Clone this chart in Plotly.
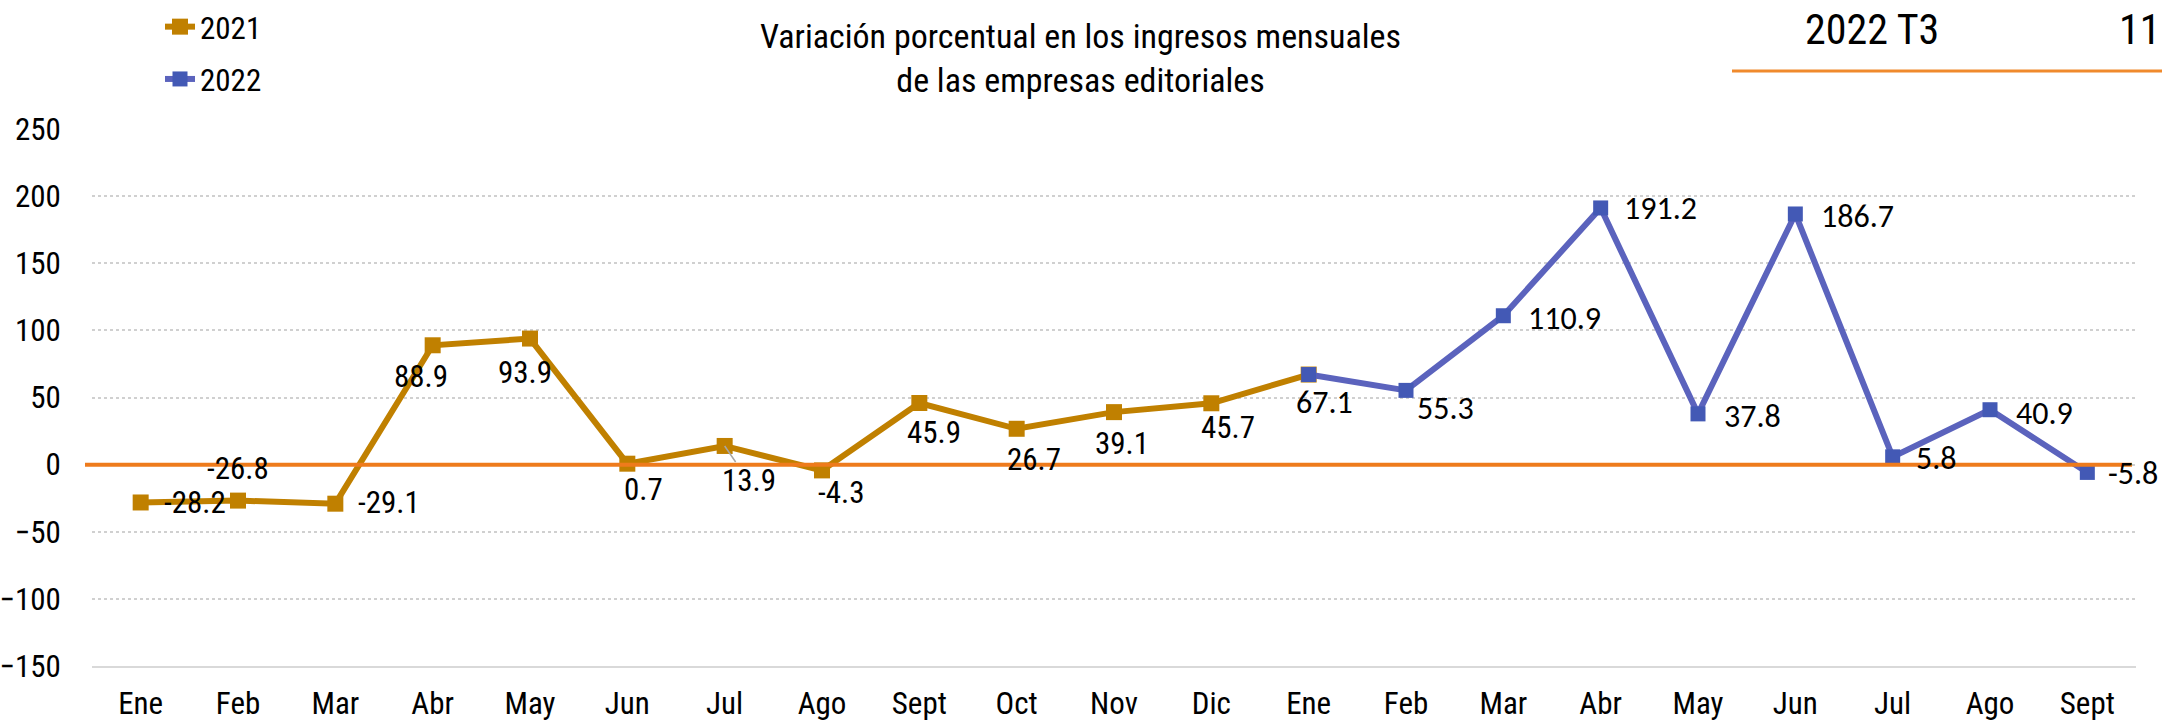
import plotly.graph_objects as go

# ---------------- data ----------------
months_2021 = ["Ene", "Feb", "Mar", "Abr", "May", "Jun", "Jul", "Ago", "Sept", "Oct", "Nov", "Dic"]
months_2022 = ["Ene", "Feb", "Mar", "Abr", "May", "Jun", "Jul", "Ago", "Sept"]
values_2021 = [-28.2, -26.8, -29.1, 88.9, 93.9, 0.7, 13.9, -4.3, 45.9, 26.7, 39.1, 45.7]
values_2022 = [67.1, 55.3, 110.9, 191.2, 37.8, 186.7, 5.8, 40.9, -5.8]
y_ticks = [-150, -100, -50, 0, 50, 100, 150, 200, 250]

series_names = ["2021", "2022"]
title_lines = ["Variación porcentual en los ingresos mensuales", "de las empresas editoriales"]
period_label = "2022 T3"
page_number = "11"

# ---------------- label placement (style, not data) ----------------
# (anchor, dx px, dy px; dy positive = downward)
label_pos_2021 = [("r", 22, 0), ("c", 0, -32), ("r", 22, -1), ("c", -12, 31), ("c", -5, 34),
                  ("c", 16, 26), ("c", 24, 35), ("c", 19, 22), ("c", 15, 29), ("c", 17, 31),
                  ("c", 8, 31), ("c", 17, 24)]
label_pos_2022 = [("c", 16, 28), ("c", 39, 18), ("r", 24, 3), ("r", 22, 1), ("r", 25, 3),
                  ("r", 25, 3), ("r", 22, 2), ("r", 25, 4), ("r", 20, 1)]

NARROW = "Liberation Sans Narrow, Arial Narrow, Roboto Condensed, Liberation Sans, Arial, sans-serif"
CALIBRI = "Carlito, Calibri, Lato, Open Sans, sans-serif"
GOLD = "#C08000"
BLUE_LINE = "#5B63BD"
BLUE_MARK = "#4359B5"
ZERO_ORANGE = "#EE7B1C"

categories = months_2021 + months_2022
x_2021 = list(range(len(months_2021)))
x_2022 = list(range(len(months_2021), len(categories)))

fig = go.Figure()

# 2021 line continues into the first 2022 point
fig.add_trace(go.Scatter(
    x=x_2021 + [x_2022[0]], y=values_2021 + [values_2022[0]],
    mode="lines+markers", name=series_names[0], legendgroup="a",
    line=dict(color=GOLD, width=6),
    marker=dict(symbol="square", size=16, color=GOLD),
    hoverinfo="skip",
))
fig.add_trace(go.Scatter(
    x=x_2022, y=values_2022,
    mode="lines+markers", name=series_names[1], legendgroup="b",
    line=dict(color=BLUE_LINE, width=6),
    marker=dict(symbol="square", size=15, color=BLUE_MARK),
    hoverinfo="skip",
))

annotations = []


def add_labels(xs, vals, positions, font):
    for x, v, (anc, dx, dy) in zip(xs, vals, positions):
        annotations.append(dict(
            x=x, y=v, xref="x", yref="y", text=f"{v:.1f}", showarrow=False,
            xanchor="left" if anc == "r" else "center", yanchor="middle",
            xshift=dx, yshift=-dy, font=font, borderpad=0,
        ))


add_labels(x_2021, values_2021, label_pos_2021, dict(family=NARROW, size=31, color="black"))
add_labels(x_2022, values_2022, label_pos_2022, dict(family=CALIBRI, size=32, color="black"))

# leader line for the Jul 2021 label
jul_idx = months_2021.index("Jul")
for a in annotations:
    if a["x"] == x_2021[jul_idx] and a["y"] == values_2021[jul_idx]:
        dx, dy = a.pop("xshift"), a.pop("yshift")
        a.update(showarrow=True, ax=dx, ay=-dy, axref="pixel", ayref="pixel",
                 arrowhead=0, arrowwidth=1.5, arrowcolor="#A6A6A6", standoff=0,
                 xanchor="center", yanchor="middle")
        break

L, R, T, B = 92, 26, 129, 55
W, H = 2162, 721
pw, ph = W - L - R, H - T - B


def px_x(p):
    return (p - L) / pw


def px_y(p):
    return (H - B - p) / ph


annotations.append(dict(
    text="<br>".join(title_lines), xref="paper", yref="paper",
    x=px_x(1080), y=px_y(58), xanchor="center", yanchor="middle", showarrow=False,
    font=dict(family=NARROW, size=34, color="black"),
))
annotations.append(dict(
    text=period_label, xref="paper", yref="paper",
    x=px_x(1872), y=px_y(30), xanchor="center", yanchor="middle", showarrow=False,
    font=dict(family=NARROW, size=42, color="black"),
))
annotations.append(dict(
    text=page_number, xref="paper", yref="paper", borderpad=0,
    x=px_x(2161), y=px_y(30), xanchor="right", yanchor="middle", showarrow=False,
    font=dict(family=NARROW, size=42, color="black"),
))

shapes = [
    dict(type="line", xref="paper", yref="y", x0=px_x(85), x1=px_x(2132), y0=0, y1=0,
         line=dict(color=ZERO_ORANGE, width=4), layer="above"),
    dict(type="line", xref="paper", yref="paper", x0=px_x(1732), x1=px_x(2200),
         y0=px_y(71), y1=px_y(71), line=dict(color="#F08A2C", width=3)),
]

fig.update_layout(
    width=W, height=H, autosize=False,
    margin=dict(l=L, r=R, t=T, b=B, pad=0, autoexpand=False),
    plot_bgcolor="white", paper_bgcolor="white",
    font=dict(family=NARROW, size=31, color="black"),
    showlegend=True,
    legend=dict(xref="container", yref="container", x=160 / W, y=1 + 5 / H,
                xanchor="left", yanchor="top",
                font=dict(family=NARROW, size=31, color="black"),
                bgcolor="rgba(0,0,0,0)", tracegroupgap=9, traceorder="grouped"),
    xaxis=dict(range=[-0.5, len(categories) - 0.5], tickmode="array", automargin=False,
               tickvals=list(range(len(categories))), ticktext=categories,
               showgrid=False, zeroline=False, showline=True, linecolor="#D9D9D9", linewidth=2,
               ticks="outside", ticklen=9, tickcolor="rgba(0,0,0,0)",
               tickfont=dict(family=NARROW, size=31, color="black")),
    yaxis=dict(range=[-150, 250], tickmode="array", tickvals=y_ticks, automargin=False,
               showgrid=True, gridcolor="#D0D0D0", griddash="dot", gridwidth=1.5,
               zeroline=False, showline=False,
               ticks="outside", ticklen=24, tickcolor="rgba(0,0,0,0)",
               tickfont=dict(family=NARROW, size=31, color="black")),
    annotations=annotations,
    shapes=shapes,
)

fig.write_html(
    "out.html",
    config={"displayModeBar": False},
    post_script="document.body.style.margin='0';document.body.style.overflow='hidden';",
)
